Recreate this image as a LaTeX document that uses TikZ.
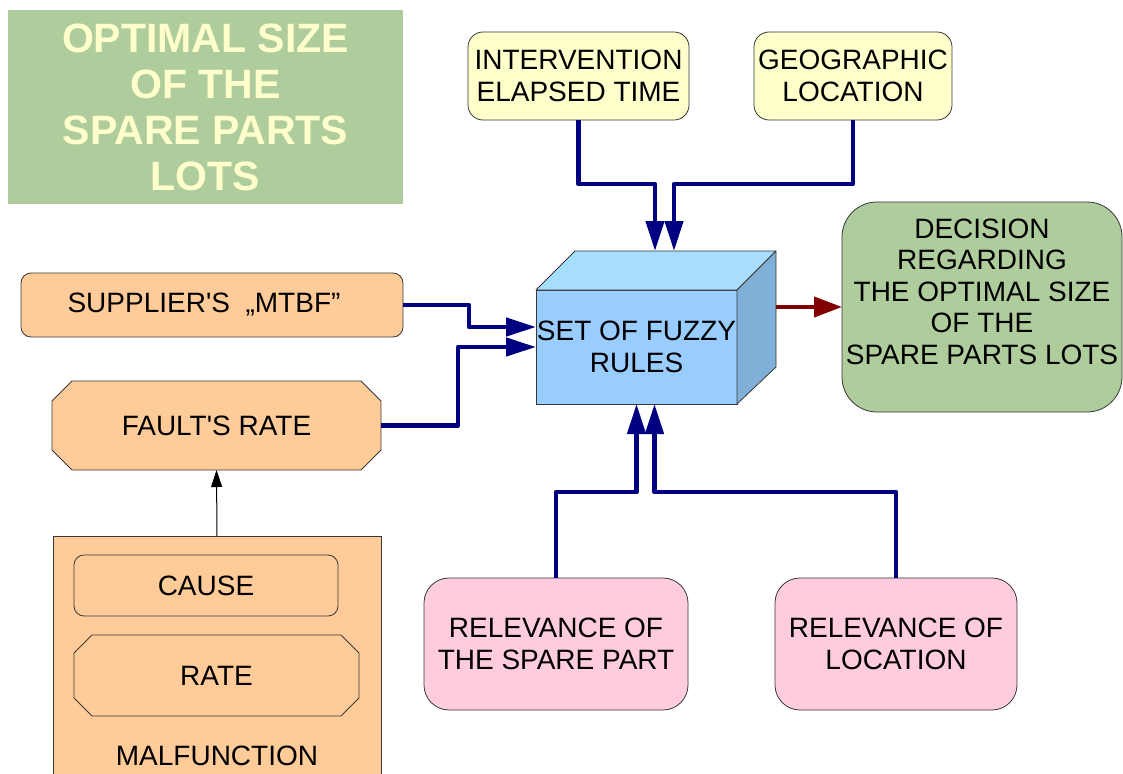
\documentclass[tikz,border=0pt]{standalone}
\usepackage{fontspec}
\newfontfamily\lsans{Liberation Sans}
\usetikzlibrary{arrows.meta,calc,backgrounds}

\definecolor{titlegreen}{RGB}{175,204,156}
\definecolor{titletext}{RGB}{255,255,204}
\definecolor{paleyellow}{RGB}{255,255,204}
\definecolor{peach}{RGB}{255,204,153}
\definecolor{relpink}{RGB}{255,204,221}
\definecolor{cubefront}{RGB}{153,204,255}
\definecolor{cubetop}{RGB}{168,222,255}
\definecolor{cubeside}{RGB}{128,176,216}
\definecolor{linknavy}{RGB}{0,0,128}
\definecolor{linkred}{RGB}{128,0,0}
\definecolor{edgegray}{RGB}{55,55,55}

% octagon (chamfered) outline drawn around a named node
\newcommand\chamferbox[2]{%
  \filldraw[octbox]
    ($(#1.north west)+(#2,0)$) -- ($(#1.north east)+(-#2,0)$) --
    ($(#1.north east)+(0,#2)$) -- ($(#1.south east)+(0,-#2)$) --
    ($(#1.south east)+(-#2,0)$) -- ($(#1.south west)+(#2,0)$) --
    ($(#1.south west)+(0,-#2)$) -- ($(#1.north west)+(0,#2)$) -- cycle;}

\begin{document}
\begin{tikzpicture}[x=1pt,y=-1pt,
  base/.style={font=\lsans\fontsize{28}{31.5}\selectfont, align=center,
    inner sep=0pt, outer sep=0pt, text=black},
  box/.style={base, draw=edgegray, line width=0.8pt},
  octbox/.style={fill=peach, draw=edgegray, line width=0.8pt},
  yellowbox/.style={box, fill=paleyellow, rounded corners=15pt},
  pinkbox/.style={box, fill=relpink, rounded corners=25pt},
  peachbox/.style={box, fill=peach, rounded corners=10pt},
  link/.style={draw=linknavy, line width=4.5pt, line join=round,
    -{Triangle[length=30pt,width=18pt]}},
  outlink/.style={draw=linkred, line width=4pt,
    -{Triangle[length=28pt,width=20pt]}},
  thinlink/.style={draw=black, line width=1pt,
    -{Triangle[length=17pt,width=11pt]}},
]
\useasboundingbox (0,0) rectangle (1123,773);

% heading
\node[base, fill=titlegreen, text=titletext, minimum width=395pt, minimum height=194pt,
  font=\lsans\bfseries\fontsize{41}{46}\selectfont] (title) at (205.5,107)
  {OPTIMAL SIZE\\OF THE\\SPARE PARTS\\LOTS};

% inputs above
\node[yellowbox, minimum width=221pt, minimum height=88pt] (iet) at (578.5,76)
  {INTERVENTION\\ELAPSED TIME};
\node[yellowbox, minimum width=198pt, minimum height=88pt] (geo) at (853,76)
  {GEOGRAPHIC\\LOCATION};

% fuzzy rule block (front face + top + side)
\node[box, fill=cubefront, minimum width=201pt, minimum height=114pt] (rules) at (636.5,347)
  {SET OF FUZZY\\RULES};
\filldraw[fill=cubetop, draw=edgegray, line width=0.8pt, line join=round]
  (rules.north west) -- ++(39,-39) -- ++(201,0) -- (rules.north east) -- cycle;
\filldraw[fill=cubeside, draw=edgegray, line width=0.8pt, line join=round]
  (rules.north east) -- ++(39,-39) -- ++(0,116) -- (rules.south east) -- cycle;

\coordinate (inT1) at (655,251);
\coordinate (inT2) at (674,251);
\coordinate (inL1) at ($(rules.west)+(0,-20)$);
\coordinate (inL2) at (rules.west);
\coordinate (inB1) at (rules.south);
\coordinate (inB2) at ($(rules.south)+(18,0)$);
\coordinate (outR) at (776,307);

% result
\node[box, fill=titlegreen, rounded corners=35pt, minimum width=280pt, minimum height=210pt]
  (dec) at (982,307)
  {DECISION\\REGARDING\\THE OPTIMAL SIZE\\OF THE\\SPARE PARTS LOTS\\\mbox{}};

% inputs on the left
\node[peachbox, minimum width=382pt, minimum height=64pt] (sup) at (212,305)
  {SUPPLIER'S\ \ „MTBF”\hspace{16pt}};
\node[base, minimum width=329pt, minimum height=89pt] (fault) at (216.5,425.5)
  {FAULT'S RATE};

% malfunction group
\node[peachbox, minimum width=264pt, minimum height=61pt] (cause) at (206,585.5) {CAUSE};
\node[base, minimum width=285pt, minimum height=81pt] (rate) at (216.5,675.5) {RATE};
\node[base, anchor=base] (malflabel) at (217,765) {MALFUNCTION};

\begin{scope}[on background layer]
  \node[box, fill=peach, minimum width=328pt, minimum height=239pt, anchor=north]
    (malf) at (217,536) {};
  \chamferbox{rate}{18}
  \chamferbox{fault}{20}
\end{scope}

% inputs below
\node[pinkbox, minimum width=264pt, minimum height=132pt] (relS) at (556,644)
  {RELEVANCE OF\\THE SPARE PART};
\node[pinkbox, minimum width=242pt, minimum height=132pt] (relL) at (896,644)
  {RELEVANCE OF\\LOCATION};

% connectors
\draw[link] (iet.south) -- ++(0,64) -| (inT1);
\draw[link] (geo.south) -- ++(0,64) -| (inT2);
\draw[link] (sup.east) -- ++(66,0) |- (inL1);
\draw[link] (fault.east) -- ++(77,0) |- (inL2);
\draw[link] (relS.north) -- ++(0,-86) -| (inB1);
\draw[link] (relL.north) -- ++(0,-86) -| (inB2);
\draw[outlink] (outR) -- (dec.west);
\draw[thinlink] (malf.north) -- (fault.south);
\end{tikzpicture}
\end{document}
